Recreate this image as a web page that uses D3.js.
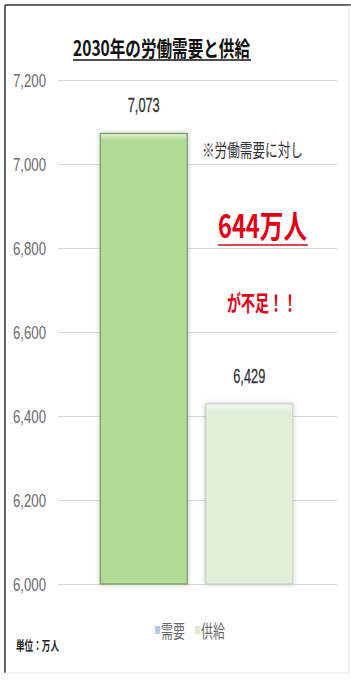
<!DOCTYPE html>
<html>
<head>
<meta charset="utf-8">
<script src="https://cdn.jsdelivr.net/npm/d3@7"></script>
<style>
  body { margin: 0; background: #fff; }
  svg text { font-family: "Noto Sans CJK JP", "Liberation Sans", sans-serif; }
</style>
</head>
<body>
<div id="chart"></div>
<script>
// data
var categories = ["需要", "供給"];
var values = [7073, 6429];
var tickValues = [6000, 6200, 6400, 6600, 6800, 7000, 7200];
var barColors = ["#b1da95", "#e1eed8"];
var barStrokes = ["#6f8f5f", "#c5d0be"];
var legendColors = ["#b4cbe8", "#dbead0"];

var W = 351, H = 681;
var margin = { top: 80, bottom: 97, left: 58, right: 14 };

var svg = d3.select("#chart").append("svg")
    .attr("width", W)
    .attr("height", H);

var defs = svg.append("defs");
var shadow = defs.append("filter").attr("id", "shadow")
    .attr("x", "-20%").attr("y", "-20%").attr("width", "140%").attr("height", "140%");
shadow.append("feDropShadow")
    .attr("dx", 0).attr("dy", 0).attr("stdDeviation", 2)
    .attr("flood-color", "#000").attr("flood-opacity", 0.25);

var bevel = defs.append("linearGradient").attr("id", "bevel")
    .attr("x1", 0).attr("y1", 0).attr("x2", 0).attr("y2", 1);
bevel.append("stop").attr("offset", "0%").attr("stop-color", "#fff").attr("stop-opacity", 0.6);
bevel.append("stop").attr("offset", "100%").attr("stop-color", "#fff").attr("stop-opacity", 0);

// frame
svg.append("line").attr("x1", 5).attr("x2", 5).attr("y1", 5).attr("y2", 673)
    .attr("stroke", "#333").attr("stroke-width", 1.5);
svg.append("line").attr("x1", 5).attr("x2", 351).attr("y1", 5).attr("y2", 5)
    .attr("stroke", "#333").attr("stroke-width", 1.5);
svg.append("line").attr("x1", 349).attr("x2", 349).attr("y1", 5).attr("y2", 673)
    .attr("stroke", "#e4e4e4").attr("stroke-width", 1);
svg.append("line").attr("x1", 5).attr("x2", 349).attr("y1", 673).attr("y2", 673)
    .attr("stroke", "#ececec").attr("stroke-width", 1);

var xScale = d3.scaleBand()
    .domain(categories)
    .range([margin.left, W - margin.right - 2])
    .paddingInner(0.175)
    .paddingOuter(0.4);

var yScale = d3.scaleLinear()
    .domain([6000, 7200])
    .range([H - margin.bottom, margin.top]);

// gridlines
svg.append("g")
    .attr("class", "grid")
    .attr("transform", "translate(" + margin.left + ",0)")
    .call(d3.axisLeft(yScale).tickValues(tickValues).tickSize(-(W - margin.right - margin.left)).tickFormat(""))
    .call(g => g.select(".domain").remove())
    .call(g => g.selectAll("line").attr("stroke", "#d9d9d9").attr("stroke-width", 1.2));

// y axis labels
svg.append("g")
    .attr("class", "y axis")
    .attr("transform", "translate(46,0)")
    .call(d3.axisLeft(yScale).tickValues(tickValues).tickSize(0).tickPadding(0).tickFormat(d3.format(",")))
    .call(g => g.select(".domain").remove())
    .call(g => g.selectAll("text")
        .attr("fill", "#6b6b6b")
        .attr("textLength", 33).attr("lengthAdjust", "spacingAndGlyphs")
        .style("font-family", "'Liberation Sans', sans-serif")
        .style("font-size", "19px")
        .attr("dy", "0.35em"));

// bars
var bars = svg.append("g").attr("class", "bars");
bars.selectAll("rect.bar")
    .data(values)
    .enter()
    .append("rect")
    .attr("class", "bar")
    .attr("x", (d, i) => xScale(categories[i]))
    .attr("y", d => yScale(d))
    .attr("width", xScale.bandwidth())
    .attr("height", d => yScale(6000) - yScale(d))
    .attr("fill", (d, i) => barColors[i])
    .attr("stroke", (d, i) => barStrokes[i])
    .attr("stroke-width", 1)
    .attr("filter", "url(#shadow)");

// top bevel highlight
bars.selectAll("rect.bevel")
    .data(values)
    .enter()
    .append("rect")
    .attr("class", "bevel")
    .attr("x", (d, i) => xScale(categories[i]) + 1)
    .attr("y", d => yScale(d) + 1)
    .attr("width", xScale.bandwidth() - 2)
    .attr("height", 6)
    .attr("fill", "url(#bevel)");

// value labels
svg.append("g").selectAll("text")
    .data(values)
    .enter()
    .append("text")
    .attr("x", (d, i) => xScale(categories[i]) + xScale.bandwidth() / 2)
    .attr("y", d => yScale(d) - 21)
    .attr("text-anchor", "middle")
    .attr("textLength", 32).attr("lengthAdjust", "spacingAndGlyphs")
    .attr("fill", "#333")
    .attr("stroke", "#333").attr("stroke-width", 0.3)
    .style("font-family", "'Liberation Sans', sans-serif")
    .style("font-size", "20px")
    .text(d => d3.format(",")(d));

// title
svg.append("text")
    .attr("x", 73).attr("y", 56)
    .attr("textLength", 177).attr("lengthAdjust", "spacingAndGlyphs")
    .attr("fill", "#111")
    .style("font-size", "21px").style("font-weight", "bold")
    .text("2030年の労働需要と供給");
svg.append("line").attr("x1", 73).attr("x2", 251).attr("y1", 60).attr("y2", 60)
    .attr("stroke", "#111").attr("stroke-width", 1.5);

// annotations
svg.append("text")
    .attr("x", 202).attr("y", 157)
    .attr("textLength", 101).attr("lengthAdjust", "spacingAndGlyphs")
    .attr("fill", "#333")
    .style("font-size", "18px")
    .text("※労働需要に対し");

svg.append("text")
    .attr("x", 218).attr("y", 238)
    .attr("textLength", 89).attr("lengthAdjust", "spacingAndGlyphs")
    .attr("fill", "#e60012")
    .style("font-size", "32px").style("font-weight", "bold")
    .text("644万人");
svg.append("line").attr("x1", 218).attr("x2", 308).attr("y1", 245).attr("y2", 245)
    .attr("stroke", "#c4141c").attr("stroke-width", 1.5);

svg.append("text")
    .attr("x", 227).attr("y", 311)
    .attr("textLength", 70).attr("lengthAdjust", "spacingAndGlyphs")
    .attr("fill", "#e60012")
    .style("font-size", "22px").style("font-weight", "bold")
    .text("が不足！！");

// legend
var legendX = [155, 195];
var legend = svg.append("g").attr("class", "legend");
legend.selectAll("rect")
    .data(categories)
    .enter()
    .append("rect")
    .attr("x", (d, i) => legendX[i])
    .attr("y", 626)
    .attr("width", 5).attr("height", 8)
    .attr("fill", (d, i) => legendColors[i]);
legend.selectAll("text")
    .data(categories)
    .enter()
    .append("text")
    .attr("x", (d, i) => legendX[i] + 6)
    .attr("y", 638)
    .attr("textLength", 24).attr("lengthAdjust", "spacingAndGlyphs")
    .attr("fill", "#6b6b6b")
    .style("font-size", "18px")
    .text(d => d);

// unit
svg.append("text")
    .attr("x", 16).attr("y", 650)
    .attr("textLength", 43).attr("lengthAdjust", "spacingAndGlyphs")
    .attr("fill", "#222")
    .style("font-size", "13px").style("font-weight", "bold")
    .text("単位：万人");
</script>
</body>
</html>
